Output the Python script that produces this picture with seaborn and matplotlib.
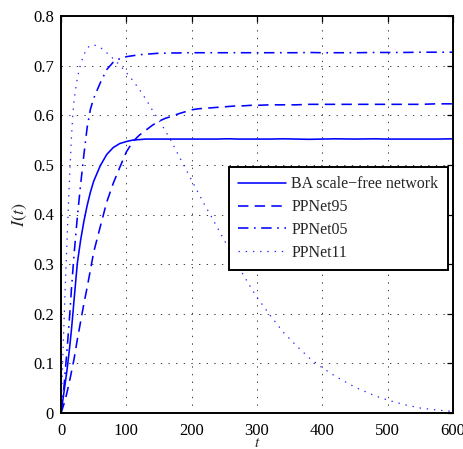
import matplotlib
matplotlib.use("Agg")
import matplotlib.pyplot as plt
import seaborn as sns
import pandas as pd

# time samples shared by all four curves
t = [0, 2, 4, 6, 8, 10, 12, 14, 16, 18, 20, 25, 30, 35, 40, 45, 50,
     60, 70, 80, 90, 100, 110, 120, 130, 140, 150, 160, 170, 180, 190, 200,
     210, 220, 230, 240, 250, 260, 270, 280, 290, 300,
     320, 340, 360, 380, 400,
     420, 450, 480, 500, 525, 550, 575, 600]

ba_scale_free = [0, 0.018, 0.037, 0.056, 0.075, 0.095, 0.118, 0.142, 0.168, 0.197, 0.228,
                 0.302, 0.348, 0.386, 0.418, 0.445, 0.467,
                 0.498, 0.521, 0.535, 0.543, 0.547, 0.550, 0.551, 0.552, 0.552, 0.552,
                 0.552, 0.552, 0.552, 0.552, 0.552, 0.552, 0.552, 0.552, 0.552, 0.5525,
                 0.5525, 0.552, 0.552, 0.552, 0.552,
                 0.552, 0.5525, 0.552, 0.5515, 0.552,
                 0.5525, 0.552, 0.5525, 0.552, 0.552, 0.552, 0.552, 0.5525]

ppnet95 = [0, 0.008, 0.016, 0.025, 0.035, 0.046, 0.058, 0.070, 0.083, 0.096, 0.109,
           0.148, 0.184, 0.220, 0.253, 0.288, 0.324,
           0.375, 0.425, 0.463, 0.495, 0.526, 0.547, 0.560, 0.570, 0.580, 0.588,
           0.594, 0.598, 0.603, 0.607, 0.611, 0.613, 0.614, 0.615, 0.616, 0.617,
           0.618, 0.619, 0.619, 0.620, 0.620,
           0.621, 0.621, 0.621, 0.622, 0.622,
           0.622, 0.622, 0.622, 0.622, 0.622, 0.622, 0.623, 0.623]

ppnet05 = [0, 0.022, 0.045, 0.075, 0.108, 0.140, 0.175, 0.210, 0.250, 0.285, 0.320,
           0.395, 0.460, 0.520, 0.575, 0.612, 0.634,
           0.665, 0.692, 0.707, 0.714, 0.718, 0.720, 0.722, 0.723, 0.724, 0.725,
           0.725, 0.7255, 0.7255, 0.726, 0.726, 0.726, 0.726, 0.726, 0.726, 0.726,
           0.726, 0.726, 0.726, 0.726, 0.726,
           0.726, 0.726, 0.726, 0.7265, 0.726,
           0.726, 0.726, 0.7265, 0.7265, 0.7265, 0.727, 0.727, 0.727]

ppnet11 = [0, 0.080, 0.160, 0.235, 0.305, 0.375, 0.440, 0.500, 0.555, 0.600, 0.630,
           0.675, 0.703, 0.722, 0.735, 0.741, 0.742,
           0.737, 0.726, 0.714, 0.701, 0.686, 0.670, 0.652, 0.632, 0.610, 0.590,
           0.568, 0.545, 0.519, 0.494, 0.469, 0.444, 0.419, 0.396, 0.372, 0.348,
           0.323, 0.299, 0.276, 0.254, 0.233,
           0.197, 0.163, 0.136, 0.111, 0.091,
           0.074, 0.052, 0.035, 0.026, 0.017, 0.010, 0.006, 0.003]

series_names = ["BA scale\u2212free network", "PPNet95", "PPNet05", "PPNet11"]
series_values = [ba_scale_free, ppnet95, ppnet05, ppnet11]

x_ticks = [0, 100, 200, 300, 400, 500, 600]
y_ticks = [0, 0.1, 0.2, 0.3, 0.4, 0.5, 0.6, 0.7, 0.8]
y_tick_labels = ["0", "0.1", "0.2", "0.3", "0.4", "0.5", "0.6", "0.7", "0.8"]

sns.set_style("white")
plt.rcParams["font.family"] = ["Liberation Serif", "DejaVu Serif"]
plt.rcParams["mathtext.fontset"] = "stix"
plt.rcParams["lines.scale_dashes"] = False

frames = [pd.DataFrame({"t": t, "I": vals, "series": name})
          for name, vals in zip(series_names, series_values)]
df = pd.concat(frames, ignore_index=True)

styles = {
    series_names[0]: dict(linestyle="-", linewidth=1.15, alpha=1.0),
    series_names[1]: dict(linestyle=(0, (7.5, 4.5)), linewidth=1.15, alpha=1.0),
    series_names[2]: dict(linestyle=(0, (7.5, 4.0, 1.2, 4.0)), linewidth=1.15, alpha=1.0),
    series_names[3]: dict(linestyle=(0, (1.0, 4.2)), linewidth=0.9, alpha=0.85),
}

fig = plt.figure(figsize=(4.63, 4.49), dpi=100)
ax = fig.add_axes([61 / 463, 36 / 449, 392 / 463, 397 / 449])

for name in series_names:
    sub = df[df["series"] == name]
    sns.lineplot(data=sub, x="t", y="I", ax=ax, color="#0000ff",
                 errorbar=None, label=name, **styles[name])

ax.set_xlim(0, 600)
ax.set_ylim(0, 0.8)
ax.set_xticks(x_ticks)
ax.set_xticklabels([str(v) for v in x_ticks])
ax.set_yticks(y_ticks)
ax.set_yticklabels(y_tick_labels)

ax.grid(True, linestyle=(0, (1.0, 4.5)), color="0.25", linewidth=0.7)
ax.tick_params(direction="in", top=True, right=True, length=4, width=0.9,
               labelsize=12, colors="black")
ax.tick_params(axis="x", pad=7)
ax.tick_params(axis="y", pad=5)
for sp in ax.spines.values():
    sp.set_visible(True)
    sp.set_linewidth(1.4)
    sp.set_color("black")

ax.set_xlabel("$t$", fontsize=11, labelpad=-1)
ax.set_ylabel("$I(t)$", fontsize=13, labelpad=3)

leg = ax.legend(loc="upper right", bbox_to_anchor=(0.987, 0.620),
                fontsize=11.5, handlelength=3.0, handletextpad=0.3,
                borderpad=0.6, labelspacing=0.42, borderaxespad=0,
                fancybox=False, frameon=True, framealpha=1.0)
leg.get_frame().set_edgecolor("black")
leg.get_frame().set_linewidth(1.4)

fig.savefig("out.png", dpi=100)
